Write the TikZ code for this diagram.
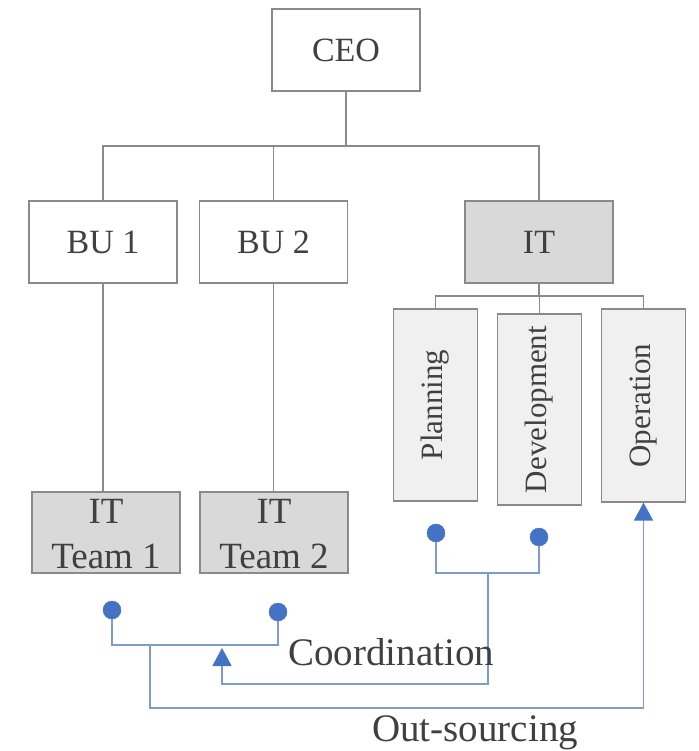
\documentclass[tikz,border=0pt]{standalone}
\usepackage{fontspec}
\setmainfont{Liberation Serif}
\usetikzlibrary{arrows.meta}
\definecolor{txt}{HTML}{404040}
\definecolor{bord}{HTML}{8A8A8A}
\definecolor{dark}{HTML}{D9D9D9}
\definecolor{light}{HTML}{F0F0F0}
\definecolor{bline}{HTML}{7F9AD0}
\definecolor{bdot}{HTML}{4472C4}
\tikzset{
  box/.style={draw=bord, line width=1.2pt, rectangle, inner sep=0pt, text=txt, align=center},
  wbox/.style={box, fill=white, minimum width=148pt, minimum height=82pt, font=\fontsize{34}{40}\selectfont},
  gbox/.style={box, fill=dark, minimum width=148pt, minimum height=82pt, font=\fontsize{34}{40}\selectfont},
  tbox/.style={box, fill=dark, minimum width=148pt, minimum height=81pt},
  tlbl/.style={text=txt, align=center, inner sep=0pt, font=\fontsize{37}{45}\selectfont},
  vbox/.style={box, fill=light, rotate=90, minimum height=84pt, font=\fontsize{31}{36}\selectfont},
  org/.style={draw=bord, line width=1.2pt},
  link/.style={draw=bline, line width=1.8pt},
  dot/.style={circle, fill=bdot, draw=bdot, inner sep=0pt, minimum size=18pt},
  tip/.style={-{Triangle[width=19pt,length=18pt,color=bdot]}},
  lbl/.style={text=txt, font=\fontsize{39}{46}\selectfont, inner sep=0pt}
}
\begin{document}
\begin{tikzpicture}[x=1pt,y=-1pt]
\useasboundingbox (0,0) rectangle (698,751);
\node[wbox] (ceo) at (346,50) {CEO};
\node[wbox] (bu1) at (103,242) {BU 1};
\node[wbox] (bu2) at (273.5,242) {BU 2};
\node[gbox] (it) at (539,242) {IT};
\node[vbox, minimum width=192pt] (plan) at (435.5,405) {Planning};
\node[vbox, minimum width=191pt] (dev) at (539.5,409.5) {Development};
\node[vbox, minimum width=193pt] (oper) at (643.5,405.5) {Operation};
\node[tbox] (t1) at (106,532.5) {};
\node[tbox] (t2) at (274,532.5) {};
\node[tlbl, anchor=base] (t1txt) at (106,568) {IT\\Team 1};
\node[tlbl, anchor=base] (t2txt) at (274,568) {IT\\Team 2};
\coordinate (bus) at (0,146);
\coordinate (bus2) at (0,296);
\draw[org] (ceo.south) -- (ceo.south |- bus);
\draw[org] (bu1.north) -- (bu1.north |- bus) -- (it.north |- bus) -- (it.north);
\draw[org] (bu2.north) -- (bu2.north |- bus);
\draw[org] (it.south) -- (it.south |- bus2);
\draw[org] (plan.east) -- (plan.east |- bus2) -- (oper.east |- bus2) -- (oper.east);
\draw[org] (dev.east) -- (dev.east |- bus2);
\draw[org] (bu1.south) -- (bu1.south |- t1.north);
\draw[org] (bu2.south) -- (bu2.south |- t2.north);
\node[dot] (d1) at (112,610) {};
\node[dot] (d2) at (278,612) {};
\node[dot] (d3) at (436,533) {};
\node[dot] (d4) at (539,537) {};
\coordinate (c1) at (150,645);
\coordinate (c2) at (488,573);
\coordinate (c3) at (222,648);
\coordinate (o1) at (0,708);
\coordinate (k1) at (0,684);
\draw[link] (d1.south) |- (c1) -| (d2.south);
\draw[link] (d3.south) |- (c2) -| (d4.south);
\draw[link, tip] (c2) -- (c2 |- k1) -| (c3);
\draw[link, tip] (c1) -- (c1 |- o1) -| (oper.west);
\node[lbl, anchor=base west] (coord) at (288,665) {Coordination};
\node[lbl, anchor=base west] (outs) at (372,741) {Out-sourcing};
\end{tikzpicture}
\end{document}
